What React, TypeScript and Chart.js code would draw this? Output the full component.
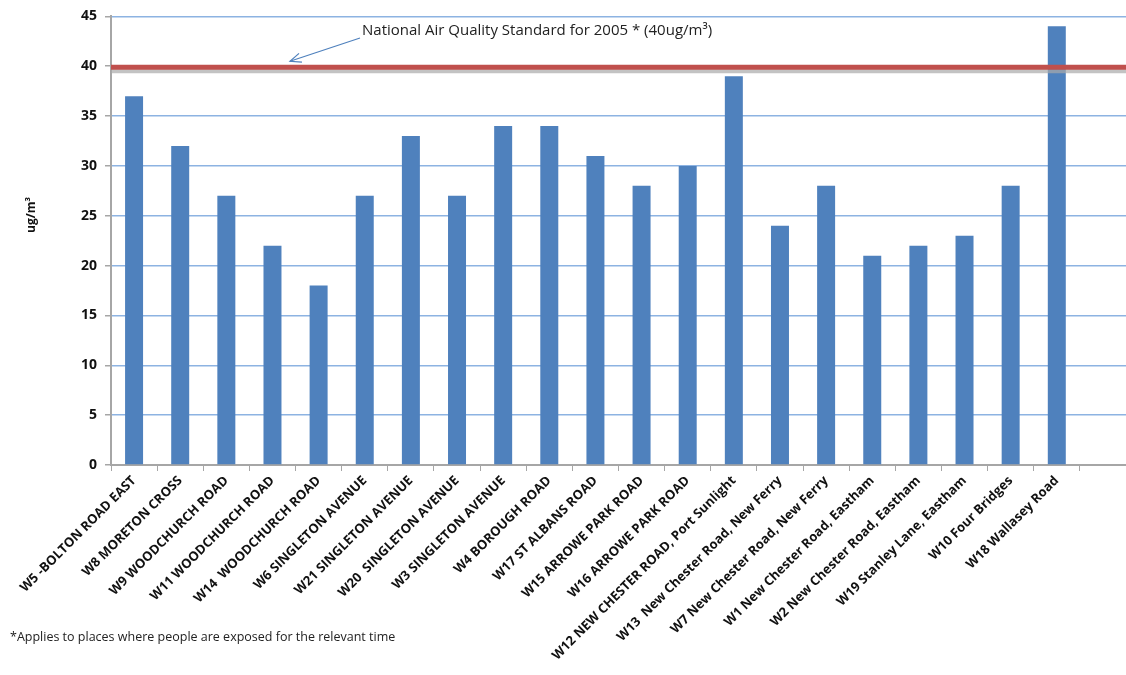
import React, { useEffect, useRef } from "react";
import { Chart, registerables } from "chart.js";

Chart.register(...registerables);

const categories: string[] = [
  "W5 -BOLTON ROAD EAST",
  "W8 MORETON CROSS",
  "W9 WOODCHURCH ROAD",
  "W11 WOODCHURCH ROAD",
  "W14  WOODCHURCH ROAD",
  "W6 SINGLETON AVENUE",
  "W21 SINGLETON AVENUE",
  "W20  SINGLETON AVENUE",
  "W3 SINGLETON AVENUE",
  "W4 BOROUGH ROAD",
  "W17 ST ALBANS ROAD",
  "W15 ARROWE PARK ROAD",
  "W16 ARROWE PARK ROAD",
  "W12 NEW CHESTER ROAD, Port Sunlight",
  "W13  New Chester Road, New Ferry",
  "W7 New Chester Road, New Ferry",
  "W1 New Chester Road, Eastham",
  "W2 New Chester Road, Eastham",
  "W19 Stanley Lane, Eastham",
  "W10 Four Bridges",
  "W18 Wallasey Road",
  "",
];

const values: (number | null)[] = [
  37, 32, 27, 22, 18, 27, 33, 27, 34, 34, 31, 28, 30, 39, 24, 28, 21, 22, 23, 28, 44, null,
];

const standardValue = 40;
const standardLabel = "National Air Quality Standard for 2005 * (40ug/m\u00B3)";
const footnote = "*Applies to places where people are exposed for the relevant time";
const yTitle = "ug/m\u00B3";

const FONT = "'Open Sans', 'Noto Sans', sans-serif";

const overlayPlugin = {
  id: "overlay",
  afterDatasetsDraw(chart: any) {
    const { ctx, chartArea, scales } = chart;
    const y = scales.y.getPixelForValue(standardValue);
    ctx.save();
    // shadow
    ctx.strokeStyle = "rgba(170,170,170,0.7)";
    ctx.lineWidth = 4;
    ctx.beginPath();
    ctx.moveTo(chartArea.left, y + 5);
    ctx.lineTo(chartArea.right, y + 5);
    ctx.stroke();
    // red line
    ctx.strokeStyle = "#C0504D";
    ctx.lineWidth = 5;
    ctx.beginPath();
    ctx.moveTo(chartArea.left, y + 1);
    ctx.lineTo(chartArea.right, y + 1);
    ctx.stroke();

    // annotation text
    ctx.fillStyle = "#222";
    ctx.font = `15px ${FONT}`;
    ctx.textBaseline = "alphabetic";
    ctx.textAlign = "left";
    ctx.fillText(standardLabel, 362, 35);

    // arrow
    const tx = 290;
    const ty = y - 5;
    const sx = 360;
    const sy = 38;
    ctx.strokeStyle = "#4F81BD";
    ctx.lineWidth = 1.2;
    ctx.beginPath();
    ctx.moveTo(sx, sy);
    ctx.lineTo(tx, ty);
    ctx.stroke();
    const ang = Math.atan2(ty - sy, tx - sx);
    const L = 12;
    ctx.beginPath();
    ctx.moveTo(tx + L * Math.cos(ang + Math.PI - 0.4), ty + L * Math.sin(ang + Math.PI - 0.4));
    ctx.lineTo(tx, ty);
    ctx.lineTo(tx + L * Math.cos(ang + Math.PI + 0.4), ty + L * Math.sin(ang + Math.PI + 0.4));
    ctx.stroke();

    // y-axis title
    ctx.save();
    ctx.translate(32, 215);
    ctx.rotate(-Math.PI / 2);
    ctx.textAlign = "center";
    ctx.textBaseline = "middle";
    ctx.fillStyle = "#111";
    ctx.font = `bold 12px ${FONT}`;
    ctx.fillText(yTitle, 0, 0);
    ctx.restore();

    // footnote
    ctx.fillStyle = "#222";
    ctx.font = `12.5px ${FONT}`;
    ctx.textAlign = "left";
    ctx.fillText(footnote, 10, 641);
    ctx.restore();
  },
};

export default function App() {
  const ref = useRef<HTMLCanvasElement | null>(null);
  useEffect(() => {
    if (!ref.current) return;
    const chart = new Chart(ref.current, {
      type: "bar",
      data: {
        labels: categories,
        datasets: [
          {
            data: values,
            backgroundColor: "#4F81BD",
            borderWidth: 0,
            barPercentage: 0.39,
            categoryPercentage: 1,
          },
        ],
      },
      options: {
        animation: false,
        responsive: false,
        maintainAspectRatio: false,
        layout: { padding: { left: 0, right: 0, top: 14, bottom: 0 } },
        plugins: {
          legend: { display: false },
          tooltip: { enabled: false },
        },
        scales: {
          x: {
            grid: {
              display: true,
              drawOnChartArea: false,
              drawTicks: true,
              tickLength: 6,
              color: "#A6A6A6",
              offset: true,
            },
            border: { color: "#A6A6A6", width: 2 },
            ticks: {
              autoSkip: false,
              maxRotation: 45,
              minRotation: 45,
              color: "#111",
              font: { family: FONT, size: 13, weight: "bold" },
              padding: 2,
            },
            afterFit(scale: any) {
              scale.height = 210;
            },
          },
          y: {
            min: 0,
            max: 45,
            ticks: {
              stepSize: 5,
              color: "#111",
              font: { family: FONT, size: 14, weight: "bold" },
              padding: 8,
            },
            grid: {
              color: "#8DB3E2",
              lineWidth: 1.5,
              tickLength: 6,
              tickColor: "#A6A6A6",
            },
            border: { color: "#A6A6A6", width: 2 },
            afterFit(scale: any) {
              scale.width = 111;
            },
          },
        },
      },
      plugins: [overlayPlugin],
    });
    return () => chart.destroy();
  }, []);
  return (
    <div style={{ position: "fixed", left: 0, top: 0, width: 1126, height: 675, background: "#fff" }}>
      <canvas ref={ref} width={1126} height={675} style={{ display: "block" }} />
    </div>
  );
}
